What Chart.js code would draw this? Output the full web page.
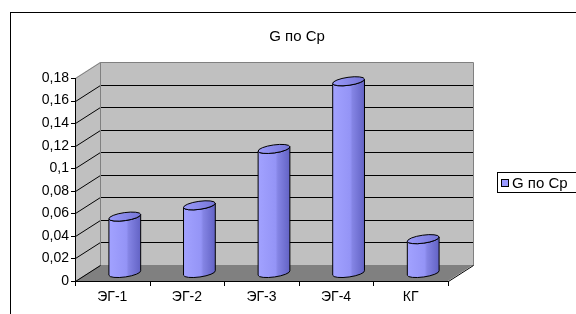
<!DOCTYPE html>
<html>
<head>
<meta charset="utf-8">
<script src="https://cdn.jsdelivr.net/npm/chart.js"></script>
<style>
  html, body { margin: 0; padding: 0; background: #fff; }
  #wrap { position: relative; width: 576px; height: 314px; }
</style>
</head>
<body>
<div id="wrap"><canvas id="chart" width="576" height="314"></canvas></div>
<script>
// Data
const chartTitle = 'G по Ср';
const seriesName = 'G по Ср';
const categories = ['ЭГ-1', 'ЭГ-2', 'ЭГ-3', 'ЭГ-4', 'КГ'];
const values = [0.05, 0.06, 0.11, 0.17, 0.03];
const yMin = 0;
const yMax = 0.18;
const yStep = 0.02;

// 3D look
const DX = 25;
const DY = -16;
const FONT = '"Liberation Sans", Arial, sans-serif';

function fmt(v) {
  return String(Math.round(v * 100) / 100).replace('.', ',');
}

function drawCylinder(ctx, cx, top, bottom, rx) {
  const ry = 4;
  const rot = -0.14;
  const c = Math.cos(rot), s = Math.sin(rot);

  const g = ctx.createLinearGradient(cx - rx, 0, cx + rx, 0);
  g.addColorStop(0, '#a2a2ff');
  g.addColorStop(0.55, '#9494f6');
  g.addColorStop(0.62, '#8484e4');
  g.addColorStop(1, '#6262c4');

  ctx.save();
  ctx.lineWidth = 1;
  ctx.strokeStyle = '#000';
  ctx.fillStyle = g;
  ctx.beginPath();
  ctx.moveTo(cx - rx * c, top - rx * s);
  ctx.lineTo(cx - rx * c, bottom - rx * s);
  ctx.ellipse(cx, bottom, rx, ry, rot, Math.PI, 0, true);
  ctx.lineTo(cx + rx * c, top + rx * s);
  ctx.ellipse(cx, top, rx, ry, rot, 0, Math.PI, false);
  ctx.closePath();
  ctx.fill();
  ctx.stroke();

  // top face
  const gt = ctx.createLinearGradient(cx - rx, 0, cx + rx, 0);
  gt.addColorStop(0, '#9a9afa');
  gt.addColorStop(1, '#7676d6');
  ctx.fillStyle = gt;
  ctx.beginPath();
  ctx.ellipse(cx, top, rx, ry, rot, 0, Math.PI * 2);
  ctx.fill();
  ctx.stroke();
  ctx.restore();
}

const walls3d = {
  id: 'walls3d',
  beforeDatasetsDraw(chart) {
    const { ctx, chartArea: a, scales } = chart;
    const y = scales.y;
    const L = a.left, R = a.right, B = a.bottom, T = a.top;
    ctx.save();
    ctx.lineWidth = 1;

    // back wall
    ctx.fillStyle = '#c0c0c0';
    ctx.fillRect(L + DX, T + DY, R - L, B - T);
    // left wall
    ctx.beginPath();
    ctx.moveTo(L, T); ctx.lineTo(L + DX, T + DY);
    ctx.lineTo(L + DX, B + DY); ctx.lineTo(L, B);
    ctx.closePath();
    ctx.fill();

    // gridlines
    ctx.strokeStyle = '#000';
    for (let v = yMin + yStep; v < yMax - 1e-9; v += yStep) {
      const py = Math.round(y.getPixelForValue(v)) + 0.5;
      ctx.beginPath();
      ctx.moveTo(L + 0.5, py);
      ctx.lineTo(L + DX + 0.5, py + DY);
      ctx.lineTo(R + DX, py + DY);
      ctx.stroke();
    }

    // floor
    ctx.fillStyle = '#808080';
    ctx.beginPath();
    ctx.moveTo(L, B); ctx.lineTo(R, B);
    ctx.lineTo(R + DX, B + DY); ctx.lineTo(L + DX, B + DY);
    ctx.closePath();
    ctx.fill();

    // wall edges
    ctx.strokeStyle = '#808080';
    ctx.beginPath();
    ctx.moveTo(L + 0.5, T + 0.5);
    ctx.lineTo(L + DX + 0.5, T + DY + 0.5);
    ctx.lineTo(R + DX + 0.5, T + DY + 0.5);
    ctx.lineTo(R + DX + 0.5, B + DY + 0.5);
    ctx.moveTo(L + DX + 0.5, T + DY + 0.5);
    ctx.lineTo(L + DX + 0.5, B + DY + 0.5);
    ctx.lineTo(R + DX + 0.5, B + DY + 0.5);
    ctx.stroke();

    ctx.strokeStyle = '#000';
    ctx.beginPath();
    ctx.moveTo(L + 0.5, B + 0.5);
    ctx.lineTo(L + DX + 0.5, B + DY + 0.5);
    ctx.moveTo(R + 0.5, B + 0.5);
    ctx.lineTo(R + DX + 0.5, B + DY + 0.5);
    ctx.stroke();
    ctx.restore();
  },
  beforeDatasetDraw(chart, args) {
    const { ctx } = chart;
    args.meta.data.forEach(bar => {
      const p = bar.getProps(['x', 'y', 'base', 'width'], true);
      drawCylinder(ctx, p.x + DX / 2, p.y + DY / 2, p.base + DY / 2, p.width / 2);
    });
    return false;
  },
  afterDraw(chart) {
    const { ctx, chartArea: a, scales } = chart;
    const y = scales.y;
    const L = a.left, R = a.right, B = a.bottom, T = a.top;
    ctx.save();
    ctx.lineWidth = 1;
    ctx.strokeStyle = '#000';

    // front axes
    ctx.beginPath();
    ctx.moveTo(L + 0.5, T);
    ctx.lineTo(L + 0.5, B + 0.5);
    ctx.lineTo(R, B + 0.5);
    ctx.stroke();

    // y tick marks
    for (let v = yMin; v <= yMax + 1e-9; v += yStep) {
      const py = Math.round(y.getPixelForValue(v)) + 0.5;
      ctx.beginPath();
      ctx.moveTo(L - 4, py);
      ctx.lineTo(L + 0.5, py);
      ctx.stroke();
    }
    // x tick marks between categories
    const step = (R - L) / categories.length;
    for (let i = 0; i <= categories.length; i++) {
      const px = Math.round(L + i * step) + 0.5;
      ctx.beginPath();
      ctx.moveTo(px, B);
      ctx.lineTo(px, B + 5);
      ctx.stroke();
    }

    // title
    ctx.fillStyle = '#000';
    ctx.font = '15px ' + FONT;
    ctx.textAlign = 'center';
    ctx.textBaseline = 'middle';
    ctx.fillText(chartTitle, 297, 37);

    // legend
    ctx.strokeRect(497.5, 172.5, 120, 20);
    ctx.fillStyle = '#9999ff';
    ctx.fillRect(501.5, 179.5, 7, 7);
    ctx.strokeRect(501.5, 179.5, 7, 7);
    ctx.fillStyle = '#000';
    ctx.textAlign = 'left';
    ctx.fillText(chart.data.datasets[0].label, 512, 183.5);

    // outer border
    ctx.strokeRect(10.5, 12.5, 700, 400);
    ctx.restore();
  }
};

new Chart(document.getElementById('chart'), {
  type: 'bar',
  data: {
    labels: categories,
    datasets: [{
      label: seriesName,
      data: values,
      backgroundColor: '#9999ff',
      barPercentage: 0.43,
      categoryPercentage: 1
    }]
  },
  options: {
    responsive: false,
    animation: false,
    layout: { padding: { left: 0, right: 128, top: 78, bottom: 0 } },
    plugins: {
      legend: { display: false },
      title: { display: false },
      tooltip: { enabled: false }
    },
    scales: {
      y: {
        min: yMin,
        max: yMax,
        grid: { display: false, drawTicks: false },
        border: { display: false },
        ticks: {
          stepSize: yStep,
          padding: 6,
          color: '#000',
          font: { family: FONT, size: 14 },
          callback: v => fmt(v)
        },
        afterFit: s => { s.width = 75; }
      },
      x: {
        grid: { display: false, drawTicks: false },
        border: { display: false },
        ticks: {
          padding: 8,
          color: '#000',
          font: { family: FONT, size: 14 }
        },
        afterFit: s => { s.height = 33; }
      }
    }
  },
  plugins: [walls3d]
});
</script>
</body>
</html>
